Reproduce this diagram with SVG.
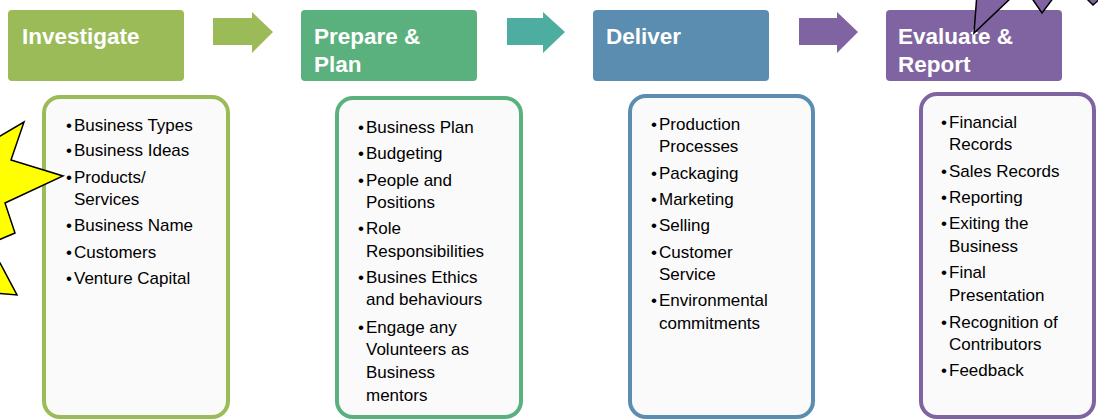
<svg xmlns="http://www.w3.org/2000/svg" width="1098" height="419" viewBox="0 0 1098 419">
<defs>
<style>
.hdr{font-family:"Liberation Sans",Arial,sans-serif;font-weight:bold;font-size:22.5px;fill:#ffffff}
.it{font-family:"Liberation Sans",Arial,sans-serif;font-size:17px;fill:#000000}
.box{fill:#fafafa;stroke-width:4}
</style>
</defs>
<rect width="1098" height="419" fill="#ffffff"/>

<g id="connectors">
<polygon points="213,18 252,18 252,12 273,32 252,53 252,45 213,45" fill="#9BBB59"/>
<polygon points="507,18 543,18 543,12 565,32 543,53 543,45 507,45" fill="#4DADA1"/>
<polygon points="799,18 837,18 837,12 858,32 837,53 837,45 799,45" fill="#8064A2"/>
</g>

<g id="investigate">
<rect x="8" y="10" width="176" height="71" rx="4" fill="#9BBB59"/>
<text class="hdr" x="22" y="44">Investigate</text>
</g>
<g id="prepare">
<rect x="301" y="10" width="176" height="71" rx="4" fill="#5BB17D"/>
<text class="hdr" x="314" y="44">Prepare &amp;</text>
<text class="hdr" x="314" y="72">Plan</text>
</g>
<g id="deliver">
<rect x="593" y="10" width="176" height="71" rx="4" fill="#5B8DB0"/>
<text class="hdr" x="606" y="44">Deliver</text>
</g>
<g id="evaluate">
<rect x="886" y="10" width="176" height="71" rx="4" fill="#8064A2"/>
<text class="hdr" x="898" y="44">Evaluate &amp;</text>
<text class="hdr" x="898" y="72">Report</text>
</g>

<g id="list-investigate">
<rect class="box" x="44" y="97" width="184" height="320" rx="16" stroke="#9BBB59"/>
<g class="it">
<text x="66" y="131">•</text><text x="74" y="131">Business Types</text>
<text x="66" y="156">•</text><text x="74" y="156">Business Ideas</text>
<text x="66" y="183">•</text><text x="74" y="183">Products/</text>
<text x="74" y="205">Services</text>
<text x="66" y="231">•</text><text x="74" y="231">Business Name</text>
<text x="66" y="258">•</text><text x="74" y="258">Customers</text>
<text x="66" y="284">•</text><text x="74" y="284">Venture Capital</text>
</g>
</g>

<g id="list-prepare">
<rect class="box" x="337" y="98" width="184" height="319" rx="16" stroke="#5BB17D"/>
<g class="it">
<text x="358" y="133">•</text><text x="366" y="133">Business Plan</text>
<text x="358" y="159">•</text><text x="366" y="159">Budgeting</text>
<text x="358" y="186">•</text><text x="366" y="186">People and</text>
<text x="366" y="208">Positions</text>
<text x="358" y="234">•</text><text x="366" y="234">Role</text>
<text x="366" y="257">Responsibilities</text>
<text x="358" y="283">•</text><text x="366" y="283">Busines Ethics</text>
<text x="366" y="305">and behaviours</text>
<text x="358" y="333">•</text><text x="366" y="333">Engage any</text>
<text x="366" y="355">Volunteers as</text>
<text x="366" y="378">Business</text>
<text x="366" y="401">mentors</text>
</g>
</g>

<g id="list-deliver">
<rect class="box" x="630" y="96" width="183" height="321" rx="16" stroke="#5B8DB0"/>
<g class="it">
<text x="651" y="130">•</text><text x="659" y="130">Production</text>
<text x="659" y="152">Processes</text>
<text x="651" y="179">•</text><text x="659" y="179">Packaging</text>
<text x="651" y="205">•</text><text x="659" y="205">Marketing</text>
<text x="651" y="231">•</text><text x="659" y="231">Selling</text>
<text x="651" y="258">•</text><text x="659" y="258">Customer</text>
<text x="659" y="280">Service</text>
<text x="651" y="306">•</text><text x="659" y="306">Environmental</text>
<text x="659" y="329">commitments</text>
</g>
</g>

<g id="list-evaluate">
<rect class="box" x="921" y="94" width="173" height="323" rx="16" stroke="#8064A2"/>
<g class="it">
<text x="941" y="128">•</text><text x="949" y="128">Financial</text>
<text x="949" y="150">Records</text>
<text x="941" y="177">•</text><text x="949" y="177">Sales Records</text>
<text x="941" y="203">•</text><text x="949" y="203">Reporting</text>
<text x="941" y="229">•</text><text x="949" y="229">Exiting the</text>
<text x="949" y="252">Business</text>
<text x="941" y="278">•</text><text x="949" y="278">Final</text>
<text x="949" y="301">Presentation</text>
<text x="941" y="328">•</text><text x="949" y="328">Recognition of</text>
<text x="949" y="350">Contributors</text>
<text x="941" y="376">•</text><text x="949" y="376">Feedback</text>
</g>
</g>

<g id="yellow-star">
<polygon points="-20,148 24,122 11,160 63,176 5,203 15,233 -20,248 -20,258 0,263 17,295 -20,292" fill="#FFFF00" stroke="#000000" stroke-width="1.5"/>
</g>

<g id="purple-star">
<polygon points="978,-20 974,33 1012,-3 1031,-3 1042,13 1054,-3 1085,-3 1093,5 1102,-3 1102,-20" fill="#8064A2" stroke="#000000" stroke-width="1.5"/>
</g>
</svg>
